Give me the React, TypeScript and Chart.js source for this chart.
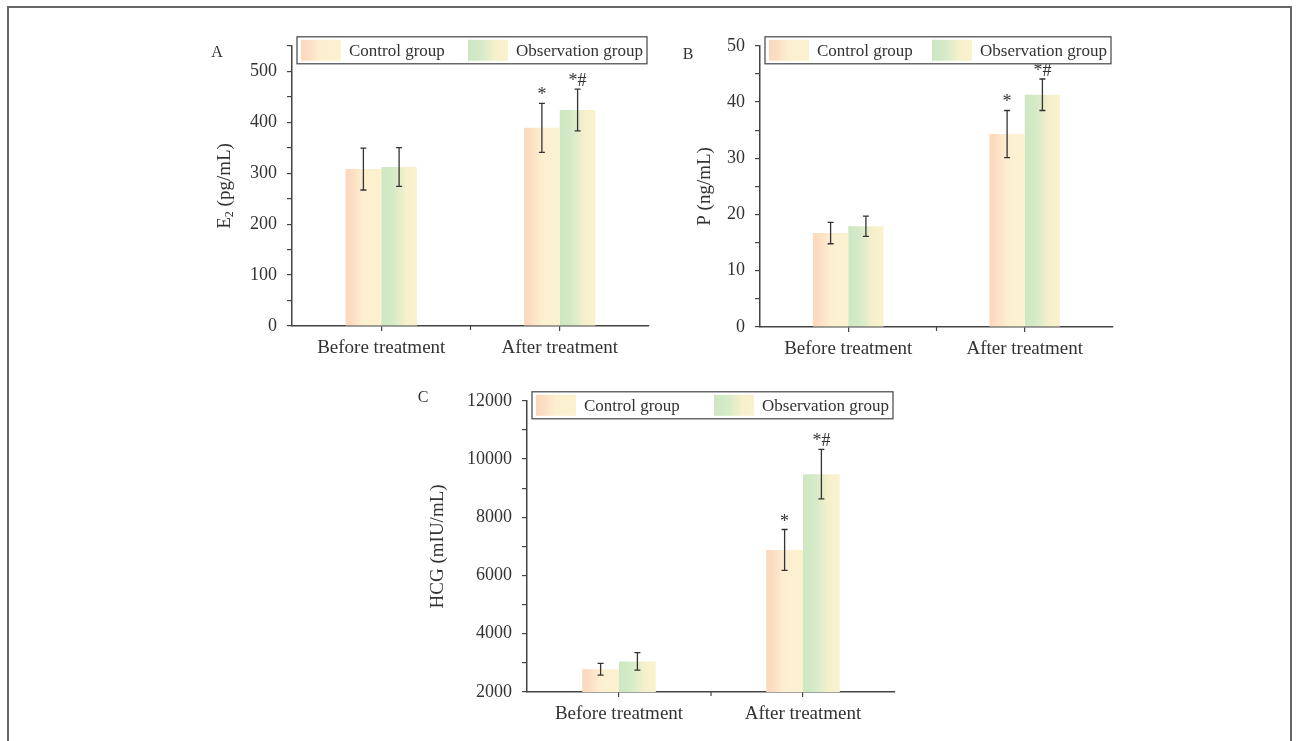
import React, { useEffect, useRef } from 'react';
import { Chart, registerables } from 'chart.js';

Chart.register(...registerables);
Chart.defaults.font.family = '"Liberation Serif", "Times New Roman", serif';

// ---------- data ----------
const categories = ['Before treatment', 'After treatment'];
const seriesNames = ['Control group', 'Observation group'];

const e2Control = [308, 389];
const e2ControlErr = [41, 48];
const e2Observation = [312, 424];
const e2ObservationErr = [38, 41];
const e2TickLabels = [0, 100, 200, 300, 400, 500];

const pControl = [16.7, 34.3];
const pControlErr = [1.9, 4.2];
const pObservation = [17.9, 41.3];
const pObservationErr = [1.8, 2.8];
const pTickLabels = [0, 10, 20, 30, 40, 50];

const hcgControl = [2780, 6880];
const hcgControlErr = [200, 700];
const hcgObservation = [3050, 9480];
const hcgObservationErr = [300, 850];
const hcgTickLabels = [2000, 4000, 6000, 8000, 10000, 12000];

const controlMarks = ['', '*'];
const observationMarks = ['', '*#'];

// ---------- styles ----------
const TEXT = '#333';
const AXIS = '#444';
const controlStops: [number, string][] = [
  [0, '#fcd8bc'],
  [0.15, '#fcdcc1'],
  [0.5, '#fcefd0'],
  [1, '#fbf2cf'],
];
const observationStops: [number, string][] = [
  [0, '#cde6c2'],
  [0.35, '#d6ebc8'],
  [0.7, '#f6f0cb'],
  [1, '#faf2cf'],
];

const panels = [
  {
    letter: 'A',
    title: ['E', '2', ' (pg/mL)'],
    control: e2Control,
    controlErr: e2ControlErr,
    observation: e2Observation,
    observationErr: e2ObservationErr,
    tickLabels: e2TickLabels,
    min: 0,
    max: 550,
    step: 50,
    box: { left: 190, top: 25, width: 470, height: 350 },
    fit: { yWidth: 102, xHeight: 49, top: 17, right: 11 },
    letterPos: [27, 28],
    titleX: 35,
  },
  {
    letter: 'B',
    title: ['P (ng/mL)'],
    control: pControl,
    controlErr: pControlErr,
    observation: pObservation,
    observationErr: pObservationErr,
    tickLabels: pTickLabels,
    min: 0,
    max: 50,
    step: 5,
    box: { left: 670, top: 25, width: 460, height: 350 },
    fit: { yWidth: 90, xHeight: 48, top: 20, right: 17 },
    letterPos: [18, 30],
    titleX: 35,
  },
  {
    letter: 'C',
    title: ['HCG (mIU/mL)'],
    control: hcgControl,
    controlErr: hcgControlErr,
    observation: hcgObservation,
    observationErr: hcgObservationErr,
    tickLabels: hcgTickLabels,
    min: 2000,
    max: 12000,
    step: 1000,
    box: { left: 400, top: 380, width: 510, height: 361 },
    fit: { yWidth: 127, xHeight: 49, top: 18, right: 15 },
    letterPos: [23, 18],
    titleX: 38,
  },
];

function makeGradient(ctx: CanvasRenderingContext2D, x0: number, x1: number, stops: [number, string][]) {
  const g = ctx.createLinearGradient(x0, 0, x1, 0);
  stops.forEach(([o, c]) => g.addColorStop(o, c));
  return g;
}

function makePlugin(cfg: any) {
  return {
    id: 'panelDecor',
    beforeDatasetsDraw(chart: any) {
      const ctx = chart.ctx;
      chart.data.datasets.forEach((ds: any, i: number) => {
        const meta = chart.getDatasetMeta(i);
        meta.data.forEach((el: any) => {
          const { x, width } = el.getProps(['x', 'width'], true);
          el.options.backgroundColor = makeGradient(ctx, x - width / 2, x + width / 2, ds.stops);
        });
      });
    },
    afterDatasetsDraw(chart: any) {
      const ctx = chart.ctx;
      const yScale = chart.scales.y;
      ctx.save();
      chart.data.datasets.forEach((ds: any, i: number) => {
        const meta = chart.getDatasetMeta(i);
        meta.data.forEach((el: any, j: number) => {
          const v = ds.data[j];
          const e = ds.errors[j];
          const x = el.x;
          const yt = yScale.getPixelForValue(v + e);
          const yb = yScale.getPixelForValue(v - e);
          ctx.strokeStyle = '#333';
          ctx.lineWidth = 1.3;
          ctx.beginPath();
          ctx.moveTo(x, yt);
          ctx.lineTo(x, yb);
          ctx.moveTo(x - 3, yt);
          ctx.lineTo(x + 3, yt);
          ctx.moveTo(x - 3, yb);
          ctx.lineTo(x + 3, yb);
          ctx.stroke();
          const mark = ds.marks[j];
          if (mark) {
            ctx.fillStyle = TEXT;
            ctx.font = '18px "Liberation Serif", serif';
            ctx.textAlign = 'center';
            ctx.textBaseline = 'alphabetic';
            ctx.fillText(mark, x, yt - 3);
          }
        });
      });
      ctx.restore();
    },
    afterDraw(chart: any) {
      const ctx = chart.ctx;
      const a = chart.chartArea;
      const xScale = chart.scales.x;
      ctx.save();

      // minor tick at category boundary
      const xm = (xScale.getPixelForValue(0) + xScale.getPixelForValue(1)) / 2;
      ctx.strokeStyle = AXIS;
      ctx.lineWidth = 1.2;
      ctx.beginPath();
      ctx.moveTo(xm, a.bottom);
      ctx.lineTo(xm, a.bottom + 4);
      ctx.stroke();

      // legend
      const bx = a.left + 5;
      const by = a.top - 9;
      const bw = a.right - 2 - bx;
      const bh = 27;
      ctx.fillStyle = '#fff';
      ctx.fillRect(bx, by, bw, bh);
      ctx.strokeStyle = AXIS;
      ctx.lineWidth = 1.2;
      ctx.strokeRect(bx, by, bw, bh);
      ctx.font = '17px "Liberation Serif", serif';
      const names = chart.data.datasets.map((d: any) => d.label);
      const widths = names.map((n: string) => ctx.measureText(n).width);
      const sw = 40;
      const gap = 8;
      const free = bw - 8 - 2 * (sw + gap) - widths[0] - widths[1];
      let x = bx + 4;
      chart.data.datasets.forEach((ds: any, i: number) => {
        ctx.fillStyle = makeGradient(ctx, x, x + sw, ds.stops);
        ctx.fillRect(x, by + 3, sw, bh - 6);
        ctx.fillStyle = TEXT;
        ctx.textAlign = 'left';
        ctx.textBaseline = 'middle';
        ctx.fillText(names[i], x + sw + gap, by + bh / 2 + 1);
        x += sw + gap + widths[i] + free;
      });

      // panel letter
      ctx.fillStyle = TEXT;
      ctx.font = '16px "Liberation Serif", serif';
      ctx.textAlign = 'center';
      ctx.textBaseline = 'middle';
      ctx.fillText(cfg.letter, cfg.letterPos[0], cfg.letterPos[1]);

      // y-axis title (with subscripts at odd indexes)
      const cy = (a.top + a.bottom) / 2;
      ctx.translate(cfg.titleX, cy);
      ctx.rotate(-Math.PI / 2);
      const mainFont = '19px "Liberation Serif", serif';
      const subFont = '12px "Liberation Serif", serif';
      let total = 0;
      cfg.title.forEach((t: string, k: number) => {
        ctx.font = k % 2 ? subFont : mainFont;
        total += ctx.measureText(t).width;
      });
      let tx = -total / 2;
      ctx.textAlign = 'left';
      ctx.textBaseline = 'middle';
      cfg.title.forEach((t: string, k: number) => {
        ctx.font = k % 2 ? subFont : mainFont;
        ctx.fillText(t, tx, k % 2 ? 5 : 0);
        tx += ctx.measureText(t).width;
      });
      ctx.restore();
    },
  };
}

function Panel({ cfg }: { cfg: any }) {
  const ref = useRef<HTMLCanvasElement | null>(null);
  useEffect(() => {
    if (!ref.current) return;
    const chart = new Chart(ref.current, {
      type: 'bar',
      data: {
        labels: categories,
        datasets: [
          {
            label: seriesNames[0],
            data: cfg.control,
            errors: cfg.controlErr,
            marks: controlMarks,
            stops: controlStops,
            backgroundColor: () => '#fcdcc1',
            borderWidth: 0,
            categoryPercentage: 0.4,
            barPercentage: 1,
          } as any,
          {
            label: seriesNames[1],
            data: cfg.observation,
            errors: cfg.observationErr,
            marks: observationMarks,
            stops: observationStops,
            backgroundColor: () => '#d6ebc8',
            borderWidth: 0,
            categoryPercentage: 0.4,
            barPercentage: 1,
          } as any,
        ],
      },
      options: {
        responsive: false,
        maintainAspectRatio: false,
        animation: false,
        events: [],
        layout: { padding: { top: cfg.fit.top, right: cfg.fit.right, left: 0, bottom: 0 } },
        plugins: { legend: { display: false }, tooltip: { enabled: false } },
        scales: {
          x: {
            offset: true,
            grid: {
              display: true,
              drawOnChartArea: false,
              offset: false,
              tickLength: 5,
              color: AXIS,
              lineWidth: 1.2,
            },
            border: { display: true, color: AXIS, width: 1.5 },
            ticks: {
              font: { size: 19 },
              color: TEXT,
              padding: 6,
              maxRotation: 0,
              autoSkip: false,
            },
            afterFit: (s: any) => {
              s.height = cfg.fit.xHeight;
            },
          },
          y: {
            min: cfg.min,
            max: cfg.max,
            grid: {
              display: true,
              drawOnChartArea: false,
              tickLength: 5,
              color: AXIS,
              lineWidth: 1.2,
            },
            border: { display: true, color: AXIS, width: 1.5 },
            ticks: {
              stepSize: cfg.step,
              autoSkip: false,
              font: { size: 18 },
              color: TEXT,
              padding: 10,
              callback: (v: any) => (cfg.tickLabels.includes(Number(v)) ? String(v) : ''),
            },
            afterFit: (s: any) => {
              s.width = cfg.fit.yWidth;
            },
          },
        },
      } as any,
      plugins: [makePlugin(cfg)],
    });
    return () => chart.destroy();
  }, [cfg]);
  return (
    <canvas
      ref={ref}
      width={cfg.box.width}
      height={cfg.box.height}
      style={{
        position: 'absolute',
        left: cfg.box.left,
        top: cfg.box.top,
        width: cfg.box.width,
        height: cfg.box.height,
      }}
    />
  );
}

export default function App() {
  return (
    <div
      style={{
        position: 'fixed',
        left: 0,
        top: 0,
        width: 1297,
        height: 741,
        overflow: 'hidden',
        background: '#fff',
      }}
    >
      <div
        style={{
          position: 'absolute',
          left: 7,
          top: 6,
          width: 1281,
          height: 800,
          borderLeft: '2px solid #666',
          borderTop: '2px solid #666',
          borderRight: '2px solid #666',
        }}
      />
      {panels.map((p) => (
        <Panel key={p.letter} cfg={p} />
      ))}
    </div>
  );
}
